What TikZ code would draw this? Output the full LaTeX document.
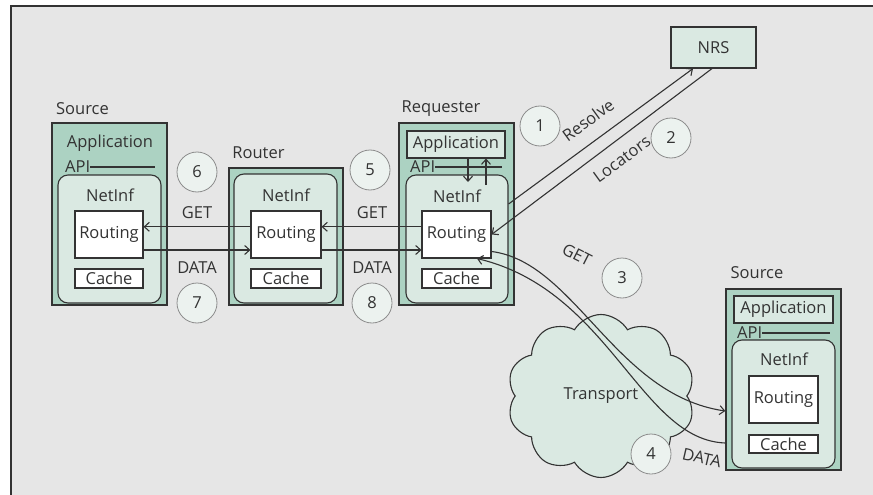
\documentclass[tikz,border=0pt]{standalone}
\usepackage{fontspec}
\setmainfont{Open Sans}
\usetikzlibrary{arrows.meta,shapes.symbols,calc}
\definecolor{bg}{HTML}{E6E6E6}
\definecolor{linec}{HTML}{333333}
\definecolor{boxg}{HTML}{ACD2C2}
\definecolor{nig}{HTML}{DAE9E2}
\definecolor{circf}{HTML}{ECF2EF}
\definecolor{circg}{HTML}{8C8C8C}
\definecolor{txt}{HTML}{333333}
\newcommand\fsz{\fontsize{16.5}{19}\selectfont}
\tikzset{
 outerbox/.style={draw=linec, line width=1.3pt, fill=boxg, inner sep=0pt},
 netinf/.style={draw=linec, line width=1.1pt, fill=nig, rounded corners=10pt, inner sep=0pt},
 whitebox/.style={draw=linec, line width=1.1pt, fill=white, inner sep=0pt, font=\fsz, text=txt},
 appbox/.style={draw=linec, line width=1.1pt, fill=nig, inner sep=0pt, font=\fsz, text=txt},
 num/.style={circle, draw=circg, fill=circf, line width=0.8pt, minimum size=40pt, inner sep=0pt, font=\fsz, text=txt},
 lbl/.style={text=txt, inner sep=0pt, font=\fsz},
 conn/.style={draw=linec, line width=1.1pt},
 arr/.style={draw=linec, line width=1.1pt, -{Straight Barb[length=5pt,width=9pt]}},
}
\begin{document}
\begin{tikzpicture}[x=1pt,y=-1pt]
\useasboundingbox (0,0) rectangle (873,495);
\fill[white] (0,0) rectangle (873,495);
\fill[bg] (11,6) rectangle (873,495);
\draw[linec, line width=1.6pt] (11,495) -- (11,6) -- (873,6);

% ---- left Source
\node[lbl] (srcAlbl) at (82.5,109) {Source};
\node[outerbox, minimum width=115pt, minimum height=182pt] (srcA) at (109.5,214) {};
\node[lbl] (srcAapp) at (110,143) {Application};
\node[lbl, anchor=west] (srcAapi) at (65,167) {API};
\coordinate (srcAapiEnd) at (155,167);
\draw[conn] (srcAapi.east) -- (srcAapiEnd);
\node[netinf, minimum width=103pt, minimum height=128pt] (srcAni) at (109.5,239) {};
\node[lbl] (srcAnit) at (110,195) {NetInf};
\node[whitebox, minimum width=68pt, minimum height=47pt] (srcAR) at (109,234.5) {Routing};
\node[whitebox, minimum width=68pt, minimum height=19pt] (srcAC) at (109,278.5) {Cache};

% ---- Router
\node[lbl] (rtlbl) at (258.5,153) {Router};
\node[outerbox, minimum width=114pt, minimum height=137pt] (rt) at (286,236.5) {};
\node[netinf, minimum width=103pt, minimum height=129pt] (rtni) at (285.5,238.5) {};
\node[lbl] (rtnit) at (286,195) {NetInf};
\node[whitebox, minimum width=70pt, minimum height=47pt] (rtR) at (286,234.5) {Routing};
\node[whitebox, minimum width=70pt, minimum height=19pt] (rtC) at (286,278.5) {Cache};

% ---- Requester
\node[lbl] (reqlbl) at (441,109) {Requester};
\node[outerbox, minimum width=115pt, minimum height=182pt] (req) at (456.5,214) {};
\node[appbox, minimum width=98pt, minimum height=27pt] (reqApp) at (456,144.5) {Application};
\node[lbl, anchor=west] (reqapi) at (410,167) {API};
\coordinate (reqapiEnd) at (502,167);
\draw[conn] (reqapi.east) -- (reqapiEnd);
\node[netinf, minimum width=102pt, minimum height=128pt] (reqni) at (457,239) {};
\node[lbl] (reqnit) at (457,196) {NetInf};
\node[whitebox, minimum width=69pt, minimum height=47pt] (reqR) at (456.5,234.5) {Routing};
\node[whitebox, minimum width=69pt, minimum height=19pt] (reqC) at (456.5,278.5) {Cache};
\coordinate (reqDn) at (468,182);
\coordinate (reqUp) at (486,185);
\draw[arr] (reqApp.south -| reqDn) -- (reqDn);
\draw[arr] (reqUp) -- (reqApp.south -| reqUp);

% ---- NRS
\node[draw=linec, line width=1.2pt, fill=nig, minimum width=85pt, minimum height=41pt, inner sep=0pt, font=\fsz, text=txt] (nrs) at (713.5,47.5) {NRS};

% ---- right Source
\node[lbl] (srcBlbl) at (757,273) {Source};
\node[outerbox, minimum width=115pt, minimum height=181pt] (srcB) at (783.5,379.5) {};
\node[appbox, minimum width=99pt, minimum height=27pt] (srcBApp) at (783.5,309.5) {Application};
\node[lbl, anchor=west] (srcBapi) at (737,333) {API};
\coordinate (srcBapiEnd) at (830,333);
\draw[conn] (srcBapi.east) -- (srcBapiEnd);
\node[netinf, minimum width=103pt, minimum height=128pt] (srcBni) at (783.5,404) {};
\node[lbl] (srcBnit) at (784,359) {NetInf};
\node[whitebox, minimum width=69pt, minimum height=47pt] (srcBR) at (783.5,399.5) {Routing};
\node[whitebox, minimum width=69pt, minimum height=18pt] (srcBC) at (783.5,444) {Cache};

% ---- cloud
\node[cloud, cloud puffs=10, cloud puff arc=120, aspect=1.15, draw=linec, line width=1.1pt, fill=nig, minimum width=188pt, minimum height=163pt, inner sep=0pt, font=\fsz, text=txt] (cloud) at (601,396) {Transport};

% ---- GET / DATA between routers
\draw[arr] ([yshift=7.7pt]rtR.west) -- ([yshift=7.7pt]srcAR.east);
\draw[arr] ([yshift=-15.5pt]srcAR.east) -- ([yshift=-15.5pt]rtR.west);
\draw[arr] ([yshift=7.7pt]reqR.west) -- ([yshift=7.7pt]rtR.east);
\draw[arr] ([yshift=-15.5pt]rtR.east) -- ([yshift=-15.5pt]reqR.west);
\node[lbl] (get6) at (197,213) {GET};
\node[lbl] (data7) at (197,268) {DATA};
\node[lbl] (get5) at (372,213) {GET};
\node[lbl] (data8) at (372,268) {DATA};

% ---- NRS arrows
\draw[arr] ([yshift=35pt]reqni.east) -- ([xshift=-20.5pt]nrs.south);
\draw[arr] ([xshift=-1.5pt]nrs.south) -- (reqR.east);
\node[lbl, rotate=36] (resolve) at (588,120) {Resolve};
\node[lbl, rotate=36] (locators) at (622,159) {Locators};

% ---- curves via transport
\draw[arr] ([yshift=-17pt]reqR.east) .. controls (575,262) and (615,395) .. ([yshift=-31.5pt]srcB.west);
\draw[arr] ([yshift=-63.5pt]srcB.west) .. controls (640,440) and (610,290) .. ([xshift=20.5pt]reqR.south);
\node[lbl, rotate=-27] (get3) at (577,255) {GET};
\node[lbl, rotate=-13] (data4) at (702,458) {DATA};

% ---- step numbers
\node[num] (c1) at (540,126) {1};
\node[num] (c2) at (671,138) {2};
\node[num] (c3) at (622,278) {3};
\node[num] (c4) at (651,454) {4};
\node[num] (c5) at (370,170) {5};
\node[num] (c6) at (197,172) {6};
\node[num] (c7) at (197,303) {7};
\node[num] (c8) at (372,303) {8};
\end{tikzpicture}
\end{document}
